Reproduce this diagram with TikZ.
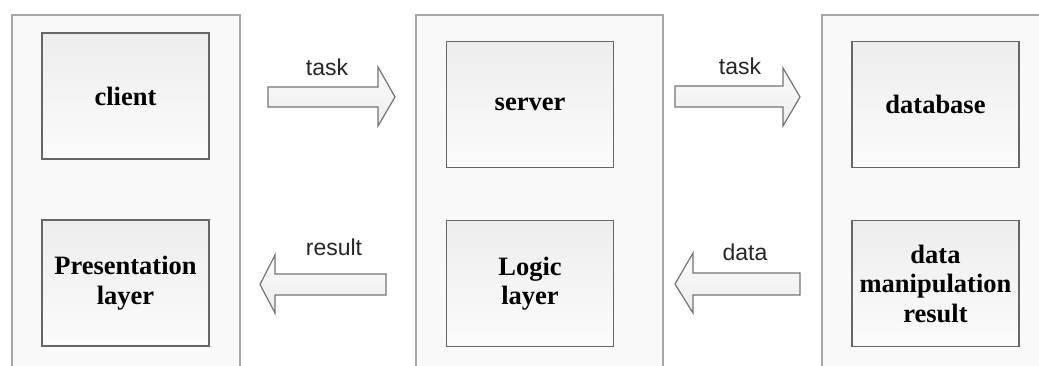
\documentclass[tikz,border=0pt]{standalone}
\usepackage{fontspec}
\setmainfont{Liberation Serif}
\newfontfamily\arrowfont{Liberation Sans}
\begin{document}
\begin{tikzpicture}[x=1pt,y=-1pt,
  outer/.style={draw=gray!70, line width=1.2pt, fill=gray!5},
  inner/.style={draw=black!60, line width=1.8pt, top color=gray!14, bottom color=gray!3,
    minimum width=167pt, minimum height=126pt, inner sep=0pt,
    font=\fontsize{26.5}{29.5}\selectfont\bfseries, align=center, text=black},
  blk/.style={draw=black!55, line width=1.2pt, top color=gray!3, bottom color=gray!14, line join=miter},
  alb/.style={font=\arrowfont\fontsize{23}{27}\selectfont, text=black!85, anchor=base, inner sep=0pt}]
\useasboundingbox (0,0) rectangle (1039,365);
\clip (0,0) rectangle (1039,365);
% tiers
\draw[outer] (12,15) rectangle (240,375);
\draw[outer] (416,15) rectangle (663,375);
\draw[outer] (822,15) rectangle (1050,375);
% inner boxes
\node[inner] (client) at (125.5,96) {client};
\node[inner] (pres) at (125.5,283) {Presentation\\layer};
\node[inner] (server) at (530,104.5) {server};
\node[inner] (logic) at (530,283.5) {Logic\\layer};
\node[inner] (db) at (935.5,104.5) {database};
\node[inner] (dmr) at (935.5,283.5) {data\\manipulation\\result};
% block arrows
\draw[blk] (268,87) -- (378,87) -- (378,67) -- (395,97) -- (378,126) -- (378,107) -- (268,107) -- cycle;
\draw[blk] (675,86) -- (783,86) -- (783,68) -- (800,97) -- (783,126) -- (783,107) -- (675,107) -- cycle;
\draw[blk] (386,274) -- (275,274) -- (275,255) -- (260,284.5) -- (275,313) -- (275,295) -- (386,295) -- cycle;
\draw[blk] (800,273) -- (693,273) -- (693,253) -- (675,284) -- (693,313) -- (693,295) -- (800,295) -- cycle;
% arrow labels
\node[alb] (t1) at (327,75) {task};
\node[alb] (t2) at (740,74) {task};
\node[alb] (r1) at (334,255) {result};
\node[alb] (d1) at (745,260) {data};
\end{tikzpicture}
\end{document}
